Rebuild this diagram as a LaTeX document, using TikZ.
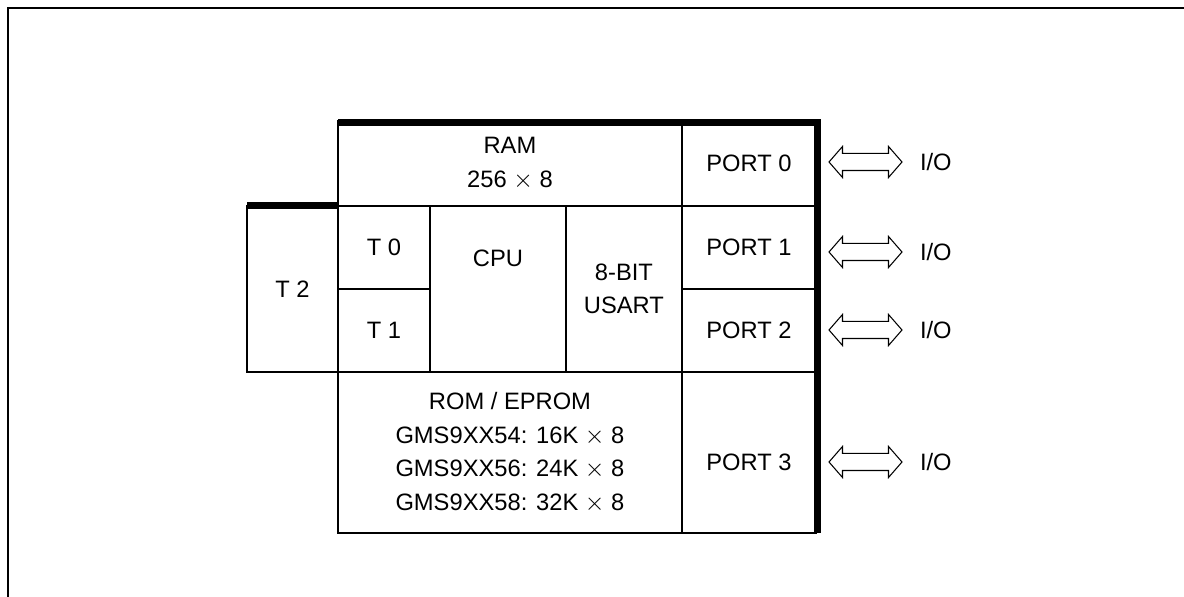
\documentclass[tikz,border=0pt]{standalone}
\usepackage{fontspec}
\setmainfont{Liberation Sans}
\usetikzlibrary{positioning,shapes.arrows}

\begin{document}
\begin{tikzpicture}[x=0.02cm,y=-0.02cm,
	every node/.style={font=\fontsize{13.5pt}{19pt}\selectfont},
	cell/.style={draw,line width=1pt,inner sep=0pt,outer sep=0pt,anchor=north west,align=center},
	heavy/.style={line width=4pt},
	ioarrow/.style={double arrow,draw,line width=0.6pt,inner xsep=0pt,inner ysep=0.16cm,minimum height=1.46cm,minimum width=0.6cm,double arrow head extend=0.14cm,double arrow tip angle=98},
	iotext/.style={inner sep=0pt,right=0.34cm of #1}]
	\useasboundingbox (0,0) rectangle (1184,597);
	% outer frame
	\draw[line width=1pt] (8,597) -- (8,8) -- (1184,8);
	
	% create the blocks
	\node[cell,minimum width=6.88cm,minimum height=1.7cm] (ram) at (338,121) {RAM\\256 $\times$ 8};
	\node[cell,minimum width=2.68cm,minimum height=1.7cm] (port0) at (ram.north east) {PORT 0};
	\node[cell,minimum width=1.84cm,minimum height=1.66cm] (t0) at (ram.south west) {T 0};
	\node[cell,minimum width=1.84cm,minimum height=1.66cm] (t1) at (t0.south west) {T 1};
	\node[cell,minimum width=2.72cm,minimum height=3.32cm,label={[yshift=0.62cm]center:CPU}] (cpu) at (t0.north east) {};
	\node[cell,minimum width=2.32cm,minimum height=3.32cm] (usart) at (cpu.north east) {8-BIT\\USART};
	\node[cell,minimum width=2.68cm,minimum height=1.66cm] (port1) at (usart.north east) {PORT 1};
	\node[cell,minimum width=2.68cm,minimum height=1.66cm] (port2) at (port1.south west) {PORT 2};
	\node[cell,anchor=north east,minimum width=1.82cm,minimum height=3.32cm] (t2) at (t0.north west) {T 2};
	\node[cell,minimum width=6.88cm,minimum height=3.22cm] (rom) at (t1.south west) {ROM / EPROM\\GMS9XX54: 16K $\times$ 8\\GMS9XX56: 24K $\times$ 8\\GMS9XX58: 32K $\times$ 8};
	\node[cell,minimum width=2.68cm,minimum height=3.22cm,label={[yshift=-0.2cm]center:PORT 3}] (port3) at (rom.north east) {};
	
	% heavy edges
	\draw[heavy] ([yshift=-1pt]ram.north west) -- ([xshift=1pt,yshift=-1pt]port0.north east) -- ([xshift=1pt]port3.south east);
	\draw[heavy] (t2.north west) -- (t2.north east);
	
	% I/O arrows
	\node[ioarrow] (arr0) at (865.5,162) {};
	\node[ioarrow] (arr1) at (865.5,252) {};
	\node[ioarrow] (arr2) at (865.5,330) {};
	\node[ioarrow] (arr3) at (865.5,462) {};
	\node[iotext=arr0] (io0) {I/O};
	\node[iotext=arr1] (io1) {I/O};
	\node[iotext=arr2] (io2) {I/O};
	\node[iotext=arr3] (io3) {I/O};
\end{tikzpicture}
\end{document}
